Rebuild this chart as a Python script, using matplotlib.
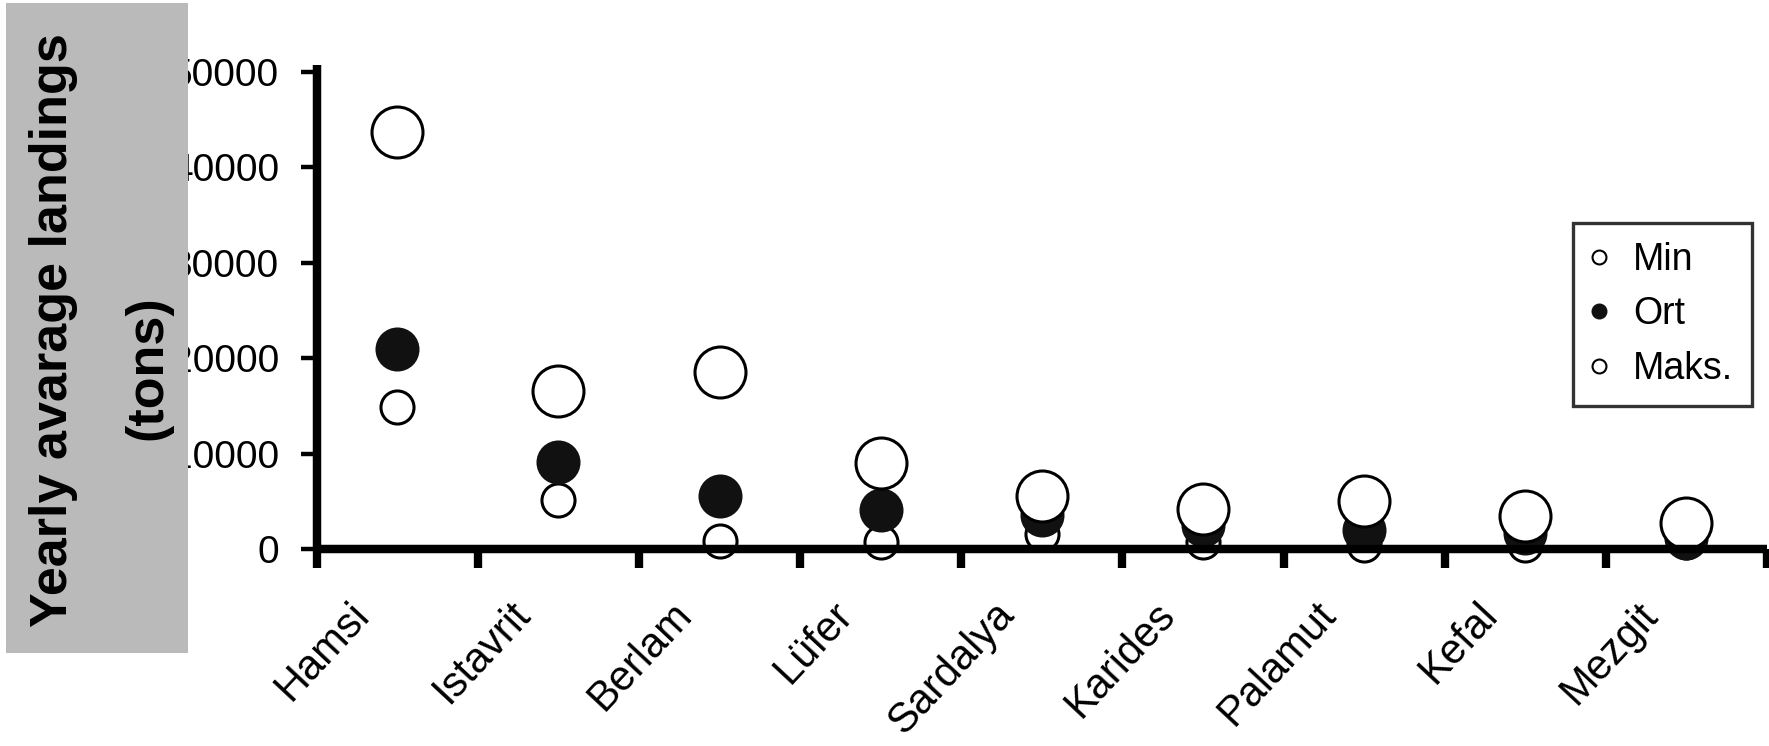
import matplotlib
matplotlib.use('Agg')
import matplotlib.pyplot as plt
import matplotlib.transforms as mtransforms
from matplotlib.patches import Rectangle
import numpy as np

# yearly landings per species (tons)
species = ['Hamsi', 'Istavrit', 'Berlam', 'Lüfer', 'Sardalya', 'Karides', 'Palamut', 'Kefal', 'Mezgit']
min_vals = [14900, 5100, 800, 700, 1600, 700, 400, 400, 700]
ort_vals = [20900, 9100, 5600, 4100, 3600, 2500, 2000, 1700, 1100]
max_vals = [43700, 16500, 18500, 9000, 5500, 4200, 5000, 3500, 2700]
yticks = [0, 10000, 20000, 30000, 40000, 50000]

plt.rcParams['font.family'] = ['Liberation Sans', 'DejaVu Sans']

W, H = 1769, 746
fig = plt.figure(figsize=(W / 100, H / 100), dpi=100)
ax = fig.add_axes([316.7 / W, 1 - 549 / H, (1767 - 316.7) / W, (549 - 65) / H])

x = np.arange(len(species)) + 0.5

# Min first, then Ort, Maks on top
ax.plot(x, min_vals, 'o', ls='none', ms=23.8, mew=2.2, mec='black', mfc='white',
        label='Min', clip_on=False)
ax.plot(x, ort_vals, 'o', ls='none', ms=29.5, mew=2.2, mec='#111111', mfc='#111111',
        label='Ort', clip_on=False)
ax.plot(x, max_vals, 'o', ls='none', ms=36.7, mew=2.2, mec='black', mfc='white',
        label='Maks.', clip_on=False)

ax.set_xlim(0, len(species))
ax.set_ylim(0, 50700)

for side in ['top', 'right']:
    ax.spines[side].set_visible(False)
for side in ['left', 'bottom']:
    ax.spines[side].set_linewidth(6.1)
    ax.spines[side].set_capstyle('butt')

ax.set_yticks(yticks)
ax.set_yticklabels([str(v) for v in yticks])
ax.tick_params(axis='y', direction='out', length=11.3, width=3.2, pad=16, labelsize=28)

# boundary ticks on x, names at the centres
ax.set_xticks(np.arange(len(species) + 1))
ax.set_xticklabels([])
ax.tick_params(axis='x', which='major', direction='out', length=13.7, width=6.0)
ax.set_xticks(x, minor=True)
ax.set_xticklabels(species, minor=True, rotation=47, ha='right', va='top', fontsize=30)
ax.tick_params(axis='x', which='minor', length=0, pad=33)
shift = mtransforms.ScaledTranslation(-0.2, 0, fig.dpi_scale_trans)
for lab in ax.get_xticklabels(minor=True):
    lab.set_transform(lab.get_transform() + shift)

leg = ax.legend(loc='upper left', bbox_to_anchor=(1573 / W, 1 - 223 / H),
                bbox_transform=fig.transFigure, fontsize=27, frameon=True,
                fancybox=False, borderpad=0.5, labelspacing=0.5, handlelength=0.4,
                handletextpad=0.7, borderaxespad=0)
leg.get_frame().set_edgecolor('black')
leg.get_frame().set_linewidth(2.4)
for h in leg.legend_handles:
    h.set_markersize(10)
    h.set_markeredgewidth(1.5)

# grey panel behind the axis title
fig.add_artist(Rectangle((6 / W, 1 - 653 / H), (188 - 6) / W, (653 - 3) / H,
                         transform=fig.transFigure, facecolor='#bababa',
                         edgecolor='none', zorder=5))
fig.text(54 / W, 1 - 330 / H, 'Yearly avarage landings', rotation=90,
         ha='center', va='center', fontsize=37.5, fontweight='bold', zorder=6)
fig.text(148 / W, 1 - 368 / H, '(tons)', rotation=90,
         ha='center', va='center', fontsize=37.5, fontweight='bold', zorder=6)

fig.savefig('out.png', dpi=100)
